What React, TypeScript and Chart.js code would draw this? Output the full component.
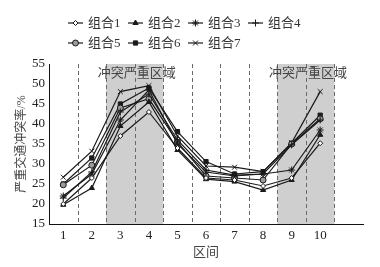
import React, { useEffect, useRef } from 'react';
import { Chart, registerables } from 'chart.js';
import { drawPoint } from 'chart.js/helpers';

Chart.register(...registerables);

const categories = ['1', '2', '3', '4', '5', '6', '7', '8', '9', '10'];
const seriesNames = ['组合1', '组合2', '组合3', '组合4', '组合5', '组合6', '组合7'];
const s1 = [20.0, 26.5, 37.0, 43.0, 34.0, 26.5, 26.0, 24.5, 26.5, 35.2];
const s2 = [19.8, 24.0, 39.5, 45.5, 33.5, 26.2, 25.6, 23.5, 26.0, 37.3];
const s3 = [22.0, 27.5, 41.0, 48.5, 35.0, 28.0, 27.0, 27.5, 28.5, 38.5];
const s4 = [21.5, 28.0, 43.0, 47.5, 36.0, 28.5, 27.2, 27.5, 34.8, 41.0];
const s5 = [24.8, 29.7, 44.0, 46.3, 35.5, 27.0, 26.5, 26.0, 35.0, 41.3];
const s6 = [25.0, 31.5, 45.0, 49.0, 38.1, 30.6, 27.5, 28.1, 35.2, 42.2];
const s7 = [26.7, 33.2, 48.1, 49.6, 37.0, 29.5, 29.2, 28.1, 35.3, 48.1];
const seriesValues = [s1, s2, s3, s4, s5, s6, s7];
const yTicks = [15, 20, 25, 30, 35, 40, 45, 50, 55];
const severeZones = [[3, 4], [9, 10]];
const zoneLabel = '冲突严重区域';
const xTitle = '区间';
const yTitle = '严重交通冲突率/%';

const FONT = '"Liberation Serif", "Times New Roman", "Noto Sans CJK SC", serif';
const INK = '#1a1a1a';

const markerStyles = [
  { pointStyle: 'rectRot', radius: 2.5, fill: '#ffffff' },
  { pointStyle: 'triangle', radius: 3, fill: INK },
  { pointStyle: 'star', radius: 3.5, fill: INK },
  { pointStyle: 'cross', radius: 3.5, fill: INK },
  { pointStyle: 'circle', radius: 3, fill: '#9a9a9a' },
  { pointStyle: 'rect', radius: 3, fill: INK },
  { pointStyle: 'crossRot', radius: 3.5, fill: INK },
];

const zonesPlugin = {
  id: 'zones',
  beforeDraw(chart: any) {
    const { ctx, chartArea, scales } = chart;
    const x = scales.x;
    ctx.save();
    ctx.fillStyle = '#cfcfcf';
    severeZones.forEach(([a, b]) => {
      const x0 = x.getPixelForValue(a - 1);
      const x1 = x.getPixelForValue(b);
      ctx.fillRect(x0, chartArea.top, x1 - x0, chartArea.bottom - chartArea.top);
    });
    ctx.strokeStyle = '#6a6a6a';
    ctx.lineWidth = 1;
    ctx.setLineDash([4, 3]);
    for (let i = 1; i <= categories.length; i++) {
      const px = Math.round(x.getPixelForValue(i)) + 0.5;
      ctx.beginPath();
      ctx.moveTo(px, chartArea.top);
      ctx.lineTo(px, chartArea.bottom);
      ctx.stroke();
    }
    ctx.setLineDash([]);
    ctx.fillStyle = '#444';
    ctx.font = `13px ${FONT}`;
    ctx.textAlign = 'center';
    ctx.textBaseline = 'middle';
    severeZones.forEach(([a, b]) => {
      const cx = (x.getPixelForValue(a - 1) + x.getPixelForValue(b)) / 2;
      ctx.fillText(zoneLabel, cx + 2, chartArea.top + 10);
    });
    ctx.restore();
  },
};

const legendPlugin = {
  id: 'gridLegend',
  afterDraw(chart: any) {
    const { ctx } = chart;
    ctx.save();
    ctx.font = `13px ${FONT}`;
    ctx.textBaseline = 'middle';
    ctx.textAlign = 'left';
    chart.data.datasets.forEach((ds: any, i: number) => {
      const col = i % 4;
      const row = Math.floor(i / 4);
      const x0 = 68 + col * 60;
      const y = 23 + row * 20;
      ctx.strokeStyle = INK;
      ctx.lineWidth = 1.2;
      ctx.beginPath();
      ctx.moveTo(x0, y);
      ctx.lineTo(x0 + 15, y);
      ctx.stroke();
      const m = markerStyles[i];
      ctx.fillStyle = m.fill;
      ctx.strokeStyle = INK;
      ctx.lineWidth = 1;
      drawPoint(ctx, { pointStyle: m.pointStyle as any, radius: m.radius, rotation: 0, borderWidth: 1 }, x0 + 7.5, y);
      ctx.fillStyle = '#333';
      ctx.fillText(ds.label, x0 + 20, y + 1);
    });
    ctx.restore();
  },
};

export default function App() {
  const ref = useRef<HTMLCanvasElement>(null);
  useEffect(() => {
    if (!ref.current) return;
    const datasets = seriesValues.map((vals, i) => ({
      label: seriesNames[i],
      data: vals.map((v, j) => ({ x: j + 0.5, y: v })),
      borderColor: INK,
      borderWidth: 1.2,
      pointStyle: markerStyles[i].pointStyle,
      pointRadius: markerStyles[i].radius,
      pointBackgroundColor: markerStyles[i].fill,
      pointBorderColor: INK,
      pointBorderWidth: 1,
      tension: 0,
    }));
    const chart = new Chart(ref.current, {
      type: 'line',
      data: { datasets: datasets as any },
      plugins: [zonesPlugin, legendPlugin],
      options: {
        animation: false,
        responsive: false,
        maintainAspectRatio: false,
        layout: { padding: { top: 64, right: 17, left: 0, bottom: 0 } },
        plugins: { legend: { display: false }, tooltip: { enabled: false } },
        scales: {
          x: {
            type: 'linear',
            min: 0,
            max: 11,
            afterBuildTicks: (axis: any) => {
              axis.ticks = categories.map((_, i) => ({ value: i + 0.5 }));
            },
            afterFit: (s: any) => {
              s.height = 43;
            },
            ticks: {
              autoSkip: false,
              maxRotation: 0,
              padding: 4,
              color: '#222',
              font: { family: FONT, size: 13 },
              callback: (v: any) => categories[Math.round(Number(v) - 0.5)],
            },
            grid: { display: false, drawTicks: false },
            border: { display: true, color: '#111', width: 1 },
            title: {
              display: true,
              text: xTitle,
              color: '#444',
              font: { family: FONT, size: 13 },
              padding: { top: 0, bottom: 7 },
            },
          },
          y: {
            type: 'linear',
            min: 15,
            max: 55,
            afterBuildTicks: (axis: any) => {
              axis.ticks = yTicks.map((v) => ({ value: v }));
            },
            afterFit: (s: any) => {
              s.width = 49;
            },
            ticks: {
              padding: 4,
              color: '#222',
              font: { family: FONT, size: 13 },
            },
            grid: { display: false, drawTicks: false },
            border: { display: true, color: '#111', width: 1 },
            title: {
              display: true,
              text: yTitle,
              color: '#444',
              font: { family: FONT, size: 12 },
              padding: { top: 15, bottom: 0 },
            },
          },
        },
      },
    });
    return () => chart.destroy();
  }, []);
  return (
    <div style={{ position: 'fixed', left: 0, top: 0, width: 380, height: 267, background: '#fff' }}>
      <canvas ref={ref} width={380} height={267} style={{ width: 380, height: 267 }} />
    </div>
  );
}
